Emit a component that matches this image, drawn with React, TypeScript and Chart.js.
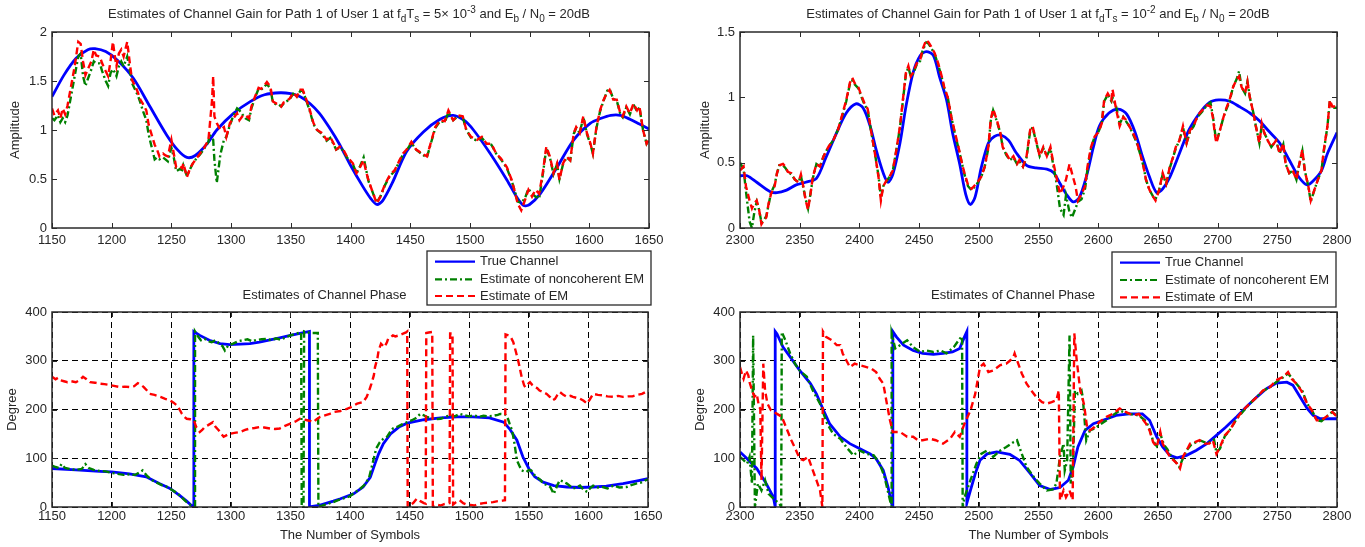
import React, { useEffect, useRef } from "react";
import { Chart, registerables } from "chart.js";

Chart.register(...registerables);

const FONT = "'Liberation Sans', Arial, Helvetica, sans-serif";
const TEXT = "#262626";

// ---------------- legend / titles ----------------
const legendLabels = ["True Channel", "Estimate of noncoherent EM", "Estimate of EM"];
const gainTitleLeft = [
  { t: "Estimates of Channel Gain for Path 1 of User 1 at f" }, { t: "d", k: "sub" }, { t: "T" }, { t: "s", k: "sub" },
  { t: " = 5\u00d7 10" }, { t: "-3", k: "sup" }, { t: " and E" }, { t: "b", k: "sub" }, { t: " / N" }, { t: "0", k: "sub" }, { t: " = 20dB" },
];
const gainTitleRight = [
  { t: "Estimates of Channel Gain for Path 1 of User 1 at f" }, { t: "d", k: "sub" }, { t: "T" }, { t: "s", k: "sub" },
  { t: " = 10" }, { t: "-2", k: "sup" }, { t: " and E" }, { t: "b", k: "sub" }, { t: " / N" }, { t: "0", k: "sub" }, { t: " = 20dB" },
];
const phaseTitle = [{ t: "Estimates of Channel Phase" }];

// ---------------- top-left: amplitude, symbols 1150..1650 ----------------
const tlTrueX = [1150,1160,1170,1180,1186,1195,1205,1218,1232,1246,
  1255,1263,1270,1280,1288,1302,1316,1328,1341,1350,
  1358,1366,1374,1382,1391,1400,1410,1417,1422,1427,
  1435,1447,1461,1475,1486,1495,1503,1517,1531,1540,
  1545,1550,1559,1573,1587,1601,1610,1618,1626,1634,
  1642,1650];
const tlTrueY = [1.34,1.56,1.73,1.82,1.83,1.80,1.71,1.53,1.24,0.95,
  0.80,0.72,0.74,0.86,1.00,1.17,1.29,1.36,1.38,1.37,
  1.34,1.27,1.17,1.03,0.85,0.64,0.43,0.30,0.24,0.28,
  0.46,0.78,0.98,1.11,1.15,1.10,1.00,0.76,0.49,0.30,
  0.23,0.24,0.35,0.62,0.90,1.07,1.12,1.15,1.15,1.11,
  1.06,1.01];
const tlSym = [1150,1152,1155,1157,1159,1161,1163,1166,1169,1172,
  1174,1176,1178,1180,1183,1185,1187,1190,1192,1195,
  1197,1199,1201,1203,1204,1206,1208,1210,1213,1215,
  1217,1220,1222,1224,1226,1229,1231,1233,1236,1238,
  1240,1243,1245,1247,1250,1252,1254,1257,1259,1260,
  1263,1266,1268,1271,1274,1278,1281,1282,1284,1285,
  1286,1288,1291,1294,1296,1299,1302,1305,1307,1310,
  1312,1315,1317,1320,1323,1325,1327,1330,1333,1335,
  1338,1340,1342,1344,1346,1349,1352,1355,1358,1360,
  1363,1366,1369,1372,1376,1380,1383,1386,1388,1391,
  1394,1397,1402,1405,1408,1411,1413,1415,1419,1422,
  1425,1429,1433,1437,1441,1444,1447,1451,1455,1460,
  1464,1467,1471,1475,1479,1482,1486,1490,1494,1497,
  1501,1506,1510,1514,1518,1522,1526,1531,1535,1538,
  1540,1543,1546,1549,1552,1555,1558,1561,1564,1567,
  1570,1573,1575,1578,1581,1584,1587,1589,1592,1595,
  1598,1601,1603,1606,1609,1612,1615,1617,1620,1623,
  1626,1628,1631,1634,1637,1640,1642,1645,1648,1650];
const tlEM = [1.22,1.15,1.20,1.12,1.22,1.16,1.25,1.45,1.65,1.90,
  1.88,1.70,1.56,1.62,1.70,1.82,1.76,1.75,1.68,1.60,
  1.55,1.70,1.90,1.72,1.65,1.78,1.82,1.75,1.90,1.70,
  1.51,1.44,1.38,1.31,1.27,1.20,1.05,0.97,0.85,0.80,
  0.73,0.76,0.74,0.73,0.90,0.76,0.62,0.63,0.61,0.66,
  0.52,0.62,0.66,0.71,0.76,0.83,0.90,1.03,1.30,1.55,
  1.14,1.07,1.00,1.03,0.93,1.07,1.12,1.17,1.10,1.15,
  1.15,1.12,1.24,1.34,1.43,1.42,1.44,1.49,1.44,1.29,
  1.27,1.27,1.24,1.28,1.29,1.32,1.38,1.34,1.41,1.41,
  1.31,1.20,1.07,1.00,0.97,0.90,0.93,0.86,0.80,0.83,
  0.80,0.73,0.66,0.56,0.62,0.69,0.58,0.49,0.35,0.25,
  0.32,0.45,0.54,0.59,0.69,0.76,0.80,0.88,0.80,0.76,
  0.73,0.86,1.03,1.10,1.09,1.20,1.10,1.15,1.14,1.00,
  0.93,0.90,0.93,0.86,0.86,0.76,0.71,0.62,0.49,0.35,
  0.25,0.18,0.28,0.39,0.32,0.39,0.35,0.56,0.83,0.73,
  0.56,0.66,0.49,0.66,0.73,0.69,0.97,1.03,0.97,1.14,
  0.97,0.86,0.76,1.03,1.20,1.31,1.38,1.41,1.31,1.31,
  1.17,1.14,1.24,1.17,1.27,1.20,1.24,1.00,0.86,0.90];
const tlNC = [1.12,1.10,1.15,1.08,1.12,1.08,1.15,1.35,1.55,1.75,
  1.78,1.55,1.45,1.52,1.62,1.70,1.68,1.68,1.60,1.50,
  1.45,1.58,1.62,1.58,1.55,1.65,1.70,1.65,1.75,1.62,
  1.48,1.40,1.35,1.28,1.20,1.10,0.95,0.85,0.70,0.72,
  0.70,0.72,0.70,0.68,0.82,0.72,0.58,0.60,0.59,0.64,
  0.53,0.61,0.66,0.71,0.75,0.82,0.88,0.95,0.92,0.90,
  0.70,0.46,0.75,0.90,0.93,1.05,1.15,1.22,1.20,1.15,
  1.12,1.10,1.22,1.33,1.42,1.41,1.43,1.47,1.42,1.28,
  1.26,1.26,1.24,1.27,1.29,1.31,1.37,1.34,1.40,1.40,
  1.30,1.19,1.06,1.00,0.96,0.89,0.92,0.85,0.80,0.82,
  0.79,0.72,0.65,0.56,0.63,0.72,0.60,0.48,0.35,0.26,
  0.32,0.44,0.53,0.58,0.68,0.75,0.79,0.87,0.80,0.75,
  0.72,0.85,1.02,1.09,1.08,1.18,1.10,1.14,1.13,1.00,
  0.92,0.89,0.92,0.86,0.85,0.76,0.70,0.61,0.48,0.36,
  0.27,0.26,0.30,0.40,0.35,0.32,0.30,0.54,0.81,0.72,
  0.55,0.65,0.50,0.65,0.72,0.69,0.96,1.02,0.97,1.13,
  0.96,0.85,0.76,1.02,1.19,1.30,1.40,1.42,1.32,1.30,
  1.16,1.13,1.23,1.16,1.26,1.19,1.23,1.00,0.86,0.90];

// ---------------- top-right: amplitude, symbols 2300..2800 ----------------
const trTrueX = [2300,2306,2314,2325,2331,2339,2347,2355,2364,2372,
  2381,2389,2397,2403,2409,2414,2420,2424,2428,2434,
  2439,2445,2451,2456,2462,2467,2473,2478,2484,2489,
  2493,2497,2502,2508,2513,2519,2525,2531,2540,2548,
  2557,2563,2568,2574,2579,2584,2590,2596,2601,2609,
  2617,2624,2631,2637,2643,2649,2654,2660,2668,2676,
  2685,2693,2701,2710,2718,2727,2735,2743,2752,2760,
  2768,2775,2781,2787,2792,2800];
const trTrueY = [0.40,0.40,0.35,0.28,0.27,0.29,0.33,0.35,0.38,0.54,
  0.73,0.88,0.95,0.92,0.78,0.60,0.42,0.35,0.41,0.65,
  0.93,1.19,1.32,1.35,1.32,1.16,0.98,0.73,0.49,0.26,
  0.18,0.24,0.46,0.65,0.70,0.71,0.67,0.58,0.48,0.46,
  0.45,0.42,0.34,0.25,0.20,0.23,0.39,0.62,0.78,0.88,
  0.91,0.87,0.73,0.55,0.39,0.27,0.30,0.39,0.57,0.75,
  0.88,0.96,0.98,0.97,0.93,0.88,0.82,0.74,0.65,0.52,
  0.39,0.33,0.37,0.44,0.57,0.73];
const trSym = [2300,2303,2305,2308,2310,2312,2314,2316,2318,2320,
  2322,2324,2326,2329,2331,2333,2336,2338,2340,2343,
  2346,2349,2351,2353,2355,2357,2359,2361,2364,2367,
  2370,2374,2378,2382,2386,2389,2392,2394,2396,2399,
  2401,2404,2407,2410,2413,2416,2418,2420,2423,2425,
  2428,2431,2434,2437,2439,2441,2443,2445,2448,2451,
  2453,2456,2458,2460,2463,2466,2469,2471,2474,2477,
  2480,2483,2486,2488,2491,2494,2498,2502,2505,2508,
  2510,2512,2515,2518,2520,2523,2526,2529,2532,2534,
  2537,2540,2543,2545,2548,2551,2554,2557,2560,2562,
  2565,2568,2571,2573,2576,2578,2581,2583,2586,2589,
  2591,2594,2597,2600,2603,2605,2608,2611,2612,2615,
  2618,2621,2623,2626,2629,2632,2635,2638,2640,2643,
  2646,2648,2651,2654,2657,2660,2663,2665,2668,2671,
  2674,2677,2680,2682,2685,2688,2691,2694,2696,2698,
  2699,2702,2705,2707,2710,2713,2716,2718,2720,2723,
  2725,2727,2730,2732,2735,2737,2739,2742,2745,2749,
  2752,2755,2757,2760,2763,2766,2768,2771,2773,2776,
  2778,2781,2784,2787,2789,2792,2794,2796,2800];
const trEM = [0.44,0.47,0.32,0.21,0.15,0.19,0.21,0.14,0.03,0.06,
  0.08,0.19,0.26,0.32,0.42,0.48,0.49,0.47,0.43,0.42,
  0.37,0.35,0.41,0.32,0.21,0.14,0.26,0.39,0.49,0.47,
  0.55,0.62,0.67,0.75,0.88,0.98,1.11,1.15,1.11,1.08,
  1.03,0.96,0.91,0.73,0.57,0.39,0.21,0.32,0.37,0.39,
  0.44,0.60,0.78,1.03,1.19,1.24,1.16,1.19,1.26,1.29,
  1.37,1.44,1.42,1.39,1.34,1.26,1.16,1.08,1.00,0.85,
  0.73,0.62,0.49,0.42,0.33,0.30,0.34,0.39,0.47,0.62,
  0.83,0.91,0.83,0.73,0.62,0.57,0.52,0.55,0.49,0.52,
  0.47,0.55,0.75,0.78,0.67,0.55,0.62,0.55,0.62,0.52,
  0.39,0.26,0.32,0.37,0.49,0.42,0.32,0.21,0.26,0.32,
  0.47,0.62,0.70,0.73,0.80,0.98,1.03,0.98,1.06,0.91,
  0.78,0.85,0.83,0.78,0.73,0.67,0.57,0.47,0.37,0.29,
  0.24,0.21,0.29,0.42,0.34,0.47,0.55,0.62,0.67,0.78,
  0.65,0.75,0.78,0.83,0.88,0.91,0.94,0.93,0.85,0.70,
  0.65,0.75,0.85,0.91,0.98,1.08,1.14,1.16,1.08,1.03,
  1.12,1.00,0.88,0.78,0.65,0.80,0.73,0.67,0.62,0.67,
  0.57,0.65,0.49,0.42,0.44,0.37,0.47,0.60,0.44,0.32,
  0.21,0.29,0.37,0.44,0.60,0.78,0.98,0.93,0.93];
const trNC = [0.50,0.45,0.28,0.05,0.00,0.12,0.20,0.14,0.04,0.06,
  0.09,0.18,0.27,0.33,0.42,0.48,0.48,0.46,0.43,0.41,
  0.37,0.35,0.40,0.31,0.22,0.15,0.26,0.38,0.49,0.47,
  0.55,0.62,0.67,0.75,0.87,0.97,1.10,1.13,1.10,1.07,
  1.02,0.95,0.90,0.73,0.57,0.40,0.23,0.32,0.36,0.39,
  0.44,0.60,0.77,1.02,1.18,1.23,1.16,1.18,1.25,1.28,
  1.36,1.42,1.41,1.38,1.33,1.25,1.15,1.07,1.00,0.85,
  0.72,0.61,0.49,0.41,0.32,0.29,0.33,0.39,0.47,0.61,
  0.82,0.90,0.82,0.73,0.62,0.56,0.52,0.54,0.49,0.51,
  0.47,0.54,0.74,0.77,0.66,0.55,0.61,0.55,0.61,0.50,
  0.35,0.15,0.10,0.25,0.12,0.08,0.15,0.20,0.22,0.30,
  0.45,0.61,0.70,0.73,0.80,0.97,1.02,0.97,1.00,0.93,
  0.80,0.85,0.82,0.78,0.72,0.66,0.57,0.47,0.37,0.29,
  0.24,0.22,0.29,0.41,0.34,0.46,0.55,0.61,0.67,0.77,
  0.65,0.74,0.78,0.83,0.87,0.90,0.94,0.96,0.86,0.72,
  0.66,0.75,0.85,0.90,0.97,1.08,1.14,1.20,1.08,1.03,
  1.12,1.00,0.88,0.78,0.65,0.79,0.73,0.67,0.62,0.67,
  0.57,0.64,0.49,0.42,0.44,0.37,0.47,0.59,0.44,0.32,
  0.20,0.29,0.37,0.44,0.59,0.78,0.97,0.92,0.92];

// ---------------- bottom-left: phase (degree), symbols 1150..1650 ----------------
const blTrueX = [1150,1170,1190,1200,1215,1229,1240,1249,1257,1263,
  1267,1269,1269,1274,1282,1291,1299,1308,1316,1324,
  1333,1341,1350,1358,1366,1366,1375,1386,1392,1403,
  1411,1417,1421,1424,1428,1434,1441,1448,1462,1476,
  1490,1503,1517,1529,1534,1540,1545,1550,1555,1562,
  1571,1582,1593,1604,1615,1629,1640,1650];
const blTrueY = [79,76,73,72,68,62,48,38,24,12,
  3,0,360,352,342,335,333,334,335,338,
  343,347,352,356,360,0,4,12,17,27,
  41,61,89,109,130,150,164,172,179,183,
  185,185,183,174,160,137,103,79,62,51,
  44,41,40,41,43,48,53,58];
const blNcX = [1150,1153,1156,1158,1161,1165,1170,1175,1178,1181,
  1185,1190,1195,1200,1205,1210,1215,1220,1224,1226,
  1230,1234,1238,1242,1246,1250,1254,1258,1262,1265,
  1268,1270,1270,1273,1275,1278,1281,1284,1287,1290,
  1293,1295,1298,1302,1306,1310,1314,1318,1322,1326,
  1330,1334,1338,1342,1346,1350,1354,1357,1359,1359.5,
  1361,1361.5,1364,1368,1372,1373,1373.5,1378,1382,1386,
  1390,1395,1400,1404,1408,1412,1416,1419.6,1422,1425,
  1428,1431,1434,1436,1440,1444,1448,1452,1455,1459,
  1462,1464,1468,1472,1476,1480,1484,1488,1492,1496,
  1500,1504,1508,1512,1515,1520,1524,1526,1530,1532,
  1534,1536,1538,1540,1542,1544,1546,1548,1550,1552,
  1555,1557,1560,1562,1565,1568,1571,1574,1576,1579,
  1582,1585,1587,1590,1593,1596,1599,1602,1604,1608,
  1612,1616,1621,1626,1632,1636,1640,1644,1648,1650];
const blNcY = [85,82,80,88,80,78,76,78,88,80,
  76,74,73,70,68,66,67,66,72,75,
  63,55,50,45,42,36,30,22,12,6,
  2,2,360,348,342,345,340,338,342,336,
  330,321,332,335,340,342,344,340,343,344,
  345,342,346,343,348,352,355,357,358,0,
  0,360,358,357,357,357,0,4,7,10,
  14,18,22,30,36,45,60,96,120,133,
  140,144,155,161,165,170,174,178,182,191,
  188,185,183,180,181,185,188,186,191,188,
  186,188,185,187,186,187,189,191,190,185,
  170,157,130,96,85,75,73,72,76,75,
  65,61,55,48,45,41,27,45,55,52,
  48,42,38,40,44,35,31,40,44,40,
  41,38,44,40,41,45,48,50,55,56];
const blEmX = [1150,1153,1155,1157,1160,1163,1166,1170,1173,1176,
  1179,1182,1186,1190,1194,1199,1203,1207,1211,1215,
  1219,1222,1225,1227,1230,1232,1236,1241,1245,1249,
  1252,1255,1257,1259,1261,1263,1266,1269,1271,1274,
  1276,1278,1281,1285,1287,1290,1292,1294,1297,1299,
  1303,1308,1312,1316,1320,1324,1328,1333,1337,1341,
  1345,1350,1354,1358,1361,1364,1367,1369,1372,1375,
  1379,1383,1387,1392,1396,1400,1403,1406,1409,1411,
  1414,1416,1418,1420,1421,1423,1424,1426,1428,1429,
  1431,1432,1434,1436,1438,1441,1443,1445,1447,1448,
  1448.4,1450,1453,1456,1459,1462,1463.5,1464,1466,1469,
  1469.5,1472,1476,1479,1481,1483.5,1484,1486,1486.5,1489,
  1492,1495,1498,1501,1504,1508,1512,1516,1520,1524,
  1528,1530,1530.5,1533,1535,1537,1539,1541,1542,1544,
  1546,1547,1549,1551,1553,1555,1557,1559,1562,1565,
  1568,1570,1572,1574,1576,1579,1582,1585,1587,1590,
  1593,1596,1599,1601,1604,1608,1612,1616,1621,1625,
  1629,1633,1637,1641,1645,1648,1650];
const blEmY = [267,262,265,260,258,256,258,256,260,267,
  262,256,255,253,252,250,248,246,247,246,
  248,254,250,246,238,232,230,226,222,219,
  214,208,200,191,185,181,180,178,164,154,
  158,164,168,174,165,157,150,144,148,150,
  152,154,158,161,162,164,163,161,160,161,
  166,171,175,181,180,178,176,174,180,185,
  188,191,195,197,200,204,208,212,214,215,
  226,238,253,270,287,305,321,335,330,328,
  338,345,348,352,350,352,354,356,358,360,
  0,3,8,17,12,8,7,357,358,359,
  2,5,3,6,7,8,356,356,5,10,
  14,8,5,4,3,6,8,9,10,12,
  13,14,354,352,348,338,320,301,290,267,
  250,246,252,256,250,246,244,239,236,232,
  225,219,222,230,236,230,226,228,226,224,
  222,218,212,220,232,230,229,227,226,228,
  226,227,227,230,232,236,239];

// ---------------- bottom-right: phase (degree), symbols 2300..2800 ----------------
const brTrueX = [2300,2306,2314,2322,2328,2329.5,2329.5,2331,2336,2342,
  2350,2359,2364,2370,2375,2384,2392,2400,2409,2414,
  2420,2424,2427,2428,2428,2431,2437,2445,2453,2462,
  2470,2478,2484,2488,2490,2490,2493,2497,2501,2507,
  2515,2526,2534,2542,2551,2560,2568,2575,2579,2583,
  2589,2596,2604,2615,2626,2637,2643,2649,2654,2660,
  2666,2674,2682,2691,2699,2707,2716,2724,2733,2741,
  2749,2758,2763,2769,2775,2780,2786,2794,2800];
const brTrueY = [113,99,79,48,20,0,360,355,328,308,
  280,253,232,198,171,144,130,120,109,99,
  75,41,7,0,360,349,332,321,315,313,
  315,318,325,349,360,8,34,68,96,109,
  113,108,96,72,44,36,40,55,82,123,
  157,171,178,188,191,191,178,144,123,106,
  101,106,116,130,147,164,185,205,226,243,
  254,256,250,226,202,188,181,181,181];
const brNcX = [2300,2303,2306,2308,2310,2311,2312.5,2315,2318,2321,
  2324,2328,2333,2334.5,2335,2338,2342,2346,2350,2356,
  2361,2367,2373,2378,2384,2389,2395,2400,2406,2412,
  2417,2421,2425,2427,2427,2430,2434,2440,2445,2451,
  2456,2462,2468,2473,2479,2484,2486,2486.5,2488,2493,
  2498,2502,2507,2512,2518,2523,2529,2532,2534,2540,
  2546,2551,2557,2562,2565,2568,2571,2572,2574,2576,
  2577,2579,2580.5,2583,2586,2587,2590,2593,2597,2601,
  2607,2612,2618,2623,2628,2634,2640,2643,2646,2649,
  2652,2655,2658,2661,2664,2668,2671,2674,2678,2682,
  2686,2690,2694,2697,2699,2702,2706,2710,2716,2722,
  2727,2733,2738,2744,2750,2755,2759,2762,2766,2771,
  2775,2779,2783,2787,2791,2796,2800];
const brNcY = [103,96,89,103,48,352,0,48,34,55,
  27,17,7,0,359,342,315,294,280,267,
  239,212,171,150,140,123,106,116,109,106,
  89,62,20,0,356,325,332,342,328,318,
  321,318,321,315,328,345,350,0,20,55,
  89,109,116,103,116,123,133,137,123,82,
  62,48,34,36,48,103,130,75,96,352,
  48,89,239,232,239,226,137,157,161,168,
  178,188,198,193,190,188,176,160,135,125,
  150,128,118,104,95,82,100,116,128,133,
  136,132,133,138,112,120,145,157,181,198,
  212,226,238,246,258,266,274,265,253,238,
  212,198,178,176,185,195,187];
const brEmX = [2300,2302,2303,2305,2307,2308,2310,2312,2314,2316,
  2317,2318,2319.5,2321,2323,2326,2331,2335,2339,2343,
  2347,2350,2353,2357,2361,2364,2367,2369,2369.5,2372,
  2377,2381,2384,2386,2389,2392,2396,2400,2406,2410,
  2414,2417,2420,2423,2425.6,2428,2434,2440,2445,2449,
  2453,2459,2464,2470,2476,2480,2484,2488,2493,2497,
  2501,2504,2508,2512,2518,2523,2526,2529,2530,2532,
  2536,2540,2544,2548,2553,2557,2561,2565,2567,2568,
  2571,2573,2576,2578.6,2580,2582,2585,2588,2590.7,2593,
  2597,2601,2607,2612,2618,2623,2629,2634,2640,2643,
  2646,2649,2652,2654,2657,2660,2663,2666,2668.5,2671,
  2674,2677,2681,2685,2689,2693,2696,2699,2702,2706,
  2710,2716,2721,2727,2733,2738,2744,2749,2755,2759,
  2762,2766,2770,2775,2779,2783,2787,2791,2796,2800];
const brEmY = [287,270,263,280,270,256,240,226,232,205,
  202,55,294,239,212,198,191,185,161,137,
  116,99,96,103,75,55,34,0,360,349,
  342,332,332,315,301,287,294,291,287,284,
  277,263,253,212,178,154,154,144,144,137,
  137,140,137,130,140,154,144,171,198,232,
  287,294,277,280,291,294,300,308,315,301,
  274,253,239,226,215,212,215,219,239,14,
  34,20,34,14,356,301,239,212,164,157,
  164,174,185,191,202,195,188,191,171,157,
  133,123,154,130,116,103,96,89,79,103,
  116,130,133,137,130,130,137,109,123,147,
  157,181,198,212,226,239,246,260,267,277,
  263,253,239,212,198,178,178,185,195,185];

// ---------------- helpers ----------------
const pts = (xs: number[], ys: number[]) => xs.map((x, i) => ({ x, y: ys[i] }));

const framePlugin = {
  id: "frameTicks",
  afterDatasetsDraw(chart: any) {
    const { ctx, chartArea: a, scales } = chart;
    const L = 5;
    ctx.save();
    ctx.strokeStyle = "#2a2a2a";
    ctx.lineWidth = 1;
    ctx.beginPath();
    scales.x.ticks.forEach((t: any) => {
      const px = Math.round(scales.x.getPixelForValue(t.value)) + 0.5;
      ctx.moveTo(px, a.bottom); ctx.lineTo(px, a.bottom - L);
      ctx.moveTo(px, a.top); ctx.lineTo(px, a.top + L);
    });
    scales.y.ticks.forEach((t: any) => {
      const py = Math.round(scales.y.getPixelForValue(t.value)) + 0.5;
      ctx.moveTo(a.left, py); ctx.lineTo(a.left + L, py);
      ctx.moveTo(a.right, py); ctx.lineTo(a.right - L, py);
    });
    ctx.stroke();
    ctx.lineWidth = 1.5;
    ctx.strokeRect(a.left, a.top, a.right - a.left, a.bottom - a.top);
    ctx.restore();
  },
};

const richTitlePlugin = {
  id: "richTitle",
  afterDraw(chart: any, _args: any, opts: any) {
    if (!opts || !opts.segs) return;
    const { ctx } = chart;
    const size = 13, small = 10;
    const fontOf = (s: any) => `${s.k ? small : size}px ${FONT}`;
    ctx.save();
    ctx.fillStyle = TEXT;
    ctx.textAlign = "left";
    ctx.textBaseline = "alphabetic";
    let total = 0;
    opts.segs.forEach((s: any) => { ctx.font = fontOf(s); total += ctx.measureText(s.t).width; });
    let x = opts.cx - total / 2;
    opts.segs.forEach((s: any) => {
      ctx.font = fontOf(s);
      const dy = s.k === "sub" ? 4 : s.k === "sup" ? -5 : 0;
      ctx.fillText(s.t, x, opts.baseline + dy);
      x += ctx.measureText(s.t).width;
    });
    ctx.restore();
  },
};

const legendBoxPlugin = {
  id: "legendBox",
  afterDraw(chart: any, _args: any, opts: any) {
    if (!opts || !opts.box) return;
    const { ctx } = chart;
    const [bx, by, bw, bh] = opts.box;
    ctx.save();
    ctx.fillStyle = "#fff";
    ctx.fillRect(bx, by, bw, bh);
    ctx.strokeStyle = "#2a2a2a";
    ctx.lineWidth = 1.3;
    ctx.strokeRect(bx, by, bw, bh);
    chart.data.datasets.forEach((ds: any, i: number) => {
      const y = opts.rows[i];
      ctx.strokeStyle = ds.borderColor;
      ctx.lineWidth = 2.2;
      ctx.setLineDash(ds.borderDash || []);
      ctx.beginPath();
      ctx.moveTo(opts.line[0], y);
      ctx.lineTo(opts.line[1], y);
      ctx.stroke();
      ctx.setLineDash([]);
      ctx.fillStyle = TEXT;
      ctx.font = `13px ${FONT}`;
      ctx.textBaseline = "middle";
      ctx.textAlign = "left";
      ctx.fillText(legendLabels[i], opts.textX, y);
    });
    ctx.restore();
  },
};

type Spec = {
  left: number; top: number; w: number; h: number;
  xMin: number; xMax: number; yMax: number; yStep: number;
  yTitle: string; xTitle?: string; grid: boolean;
  padTop: number; padRight: number; yWidth: number; xHeight: number;
  yTitlePad: number; xTickPad: number; xTitlePad: number;
  title: any; legend?: any; tension: number;
  tX: number[]; tY: number[]; nX: number[]; nY: number[]; eX: number[]; eY: number[];
};

const PANELS: Spec[] = [
  {
    left: 0, top: 0, w: 682, h: 250, xMin: 1150, xMax: 1650, yMax: 2, yStep: 0.5,
    yTitle: "Amplitude", grid: false, padTop: 32, padRight: 33, yWidth: 52, xHeight: 22,
    yTitlePad: 7.2, xTickPad: 4.5, xTitlePad: 0, tension: 0.3,
    title: { segs: gainTitleLeft, cx: 349, baseline: 18 },
    tX: tlTrueX, tY: tlTrueY, nX: tlSym, nY: tlNC, eX: tlSym, eY: tlEM,
  },
  {
    left: 682, top: 0, w: 683, h: 250, xMin: 2300, xMax: 2800, yMax: 1.5, yStep: 0.5,
    yTitle: "Amplitude", grid: false, padTop: 32, padRight: 28, yWidth: 58, xHeight: 22,
    yTitlePad: 15.2, xTickPad: 4.5, xTitlePad: 0, tension: 0.3,
    title: { segs: gainTitleRight, cx: 356, baseline: 18 },
    tX: trTrueX, tY: trTrueY, nX: trSym, nY: trNC, eX: trSym, eY: trEM,
  },
  {
    left: 0, top: 250, w: 682, h: 297, xMin: 1150, xMax: 1650, yMax: 400, yStep: 100,
    yTitle: "Degree", xTitle: "The Number of Symbols", grid: true, padTop: 62, padRight: 34, yWidth: 52, xHeight: 40,
    yTitlePad: 4.2, xTickPad: 1.9, xTitlePad: 4.2, tension: 0,
    title: { segs: phaseTitle, cx: 324.5, baseline: 49 },
    legend: { box: [427, 1, 224, 54], rows: [11.7, 29.3, 46], line: [435, 475], textX: 480 },
    tX: blTrueX, tY: blTrueY, nX: blNcX, nY: blNcY, eX: blEmX, eY: blEmY,
  },
  {
    left: 682, top: 250, w: 683, h: 297, xMin: 2300, xMax: 2800, yMax: 400, yStep: 100,
    yTitle: "Degree", xTitle: "The Number of Symbols", grid: true, padTop: 62, padRight: 28, yWidth: 58, xHeight: 40,
    yTitlePad: 10.2, xTickPad: 1.9, xTitlePad: 4.2, tension: 0,
    title: { segs: phaseTitle, cx: 331, baseline: 49 },
    legend: { box: [430, 2, 224, 55], rows: [12.7, 30, 47.3], line: [438, 478], textX: 483 },
    tX: brTrueX, tY: brTrueY, nX: brNcX, nY: brNcY, eX: brEmX, eY: brEmY,
  },
];

function makeConfig(s: Spec): any {
  const tickFont = { family: FONT, size: 13 };
  return {
    type: "line",
    data: {
      datasets: [
        { label: legendLabels[0], data: pts(s.tX, s.tY), borderColor: "#0000FF", borderWidth: 2.8, pointRadius: 0, tension: s.tension, fill: false, order: 3 },
        { label: legendLabels[1], data: pts(s.nX, s.nY), borderColor: "#008000", borderWidth: 2.4, borderDash: [7, 3, 2, 3], pointRadius: 0, tension: 0, fill: false, order: 2 },
        { label: legendLabels[2], data: pts(s.eX, s.eY), borderColor: "#FF0000", borderWidth: 2.4, borderDash: [7, 4], pointRadius: 0, tension: 0, fill: false, order: 1 },
      ],
    },
    options: {
      responsive: false,
      animation: false,
      events: [],
      layout: { padding: { top: s.padTop, right: s.padRight, left: 0, bottom: 0 } },
      plugins: {
        legend: { display: false },
        tooltip: { enabled: false },
        title: { display: false },
        richTitle: s.title,
        legendBox: s.legend || {},
      },
      scales: {
        x: {
          type: "linear", min: s.xMin, max: s.xMax,
          ticks: { stepSize: 50, autoSkip: false, maxRotation: 0, color: TEXT, font: tickFont, padding: s.xTickPad, callback: (v: any) => String(v) },
          grid: { display: s.grid, color: "#000", lineWidth: 1, drawTicks: false },
          border: { display: false, dash: [6, 4] },
          title: s.xTitle
            ? { display: true, text: s.xTitle, color: TEXT, font: tickFont, padding: { top: 0, bottom: s.xTitlePad } }
            : { display: false },
          afterFit: (sc: any) => { sc.height = s.xHeight; },
        },
        y: {
          type: "linear", min: 0, max: s.yMax,
          ticks: { stepSize: s.yStep, color: TEXT, font: tickFont, padding: 5, callback: (v: any) => String(Math.round(v * 100) / 100) },
          grid: { display: s.grid, color: "#000", lineWidth: 1, drawTicks: false },
          border: { display: false, dash: [6, 4] },
          title: { display: true, text: s.yTitle, color: TEXT, font: tickFont, padding: { top: s.yTitlePad, bottom: 0 } },
          afterFit: (sc: any) => { sc.width = s.yWidth; },
        },
      },
    },
    plugins: [framePlugin, richTitlePlugin, legendBoxPlugin],
  };
}

function Panel({ spec }: { spec: Spec }) {
  const ref = useRef<HTMLCanvasElement>(null);
  useEffect(() => {
    if (!ref.current) return;
    const chart = new Chart(ref.current, makeConfig(spec));
    return () => chart.destroy();
  }, [spec]);
  return (
    <canvas
      ref={ref}
      width={spec.w}
      height={spec.h}
      style={{ position: "absolute", left: spec.left, top: spec.top, width: spec.w, height: spec.h }}
    />
  );
}

export default function App() {
  return (
    <div style={{ position: "fixed", left: 0, top: 0, width: 1365, height: 547, background: "#fff", overflow: "hidden" }}>
      {PANELS.map((p, i) => <Panel key={i} spec={p} />)}
    </div>
  );
}
